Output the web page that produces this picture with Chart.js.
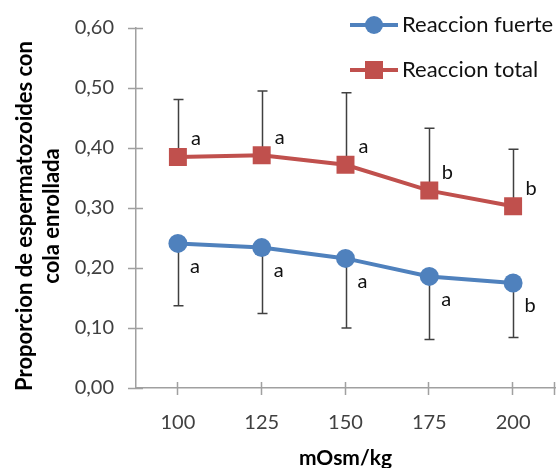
<!DOCTYPE html>
<html>
<head>
<meta charset="utf-8">
<script src="https://cdn.jsdelivr.net/npm/chart.js@4"></script>
<style>
  html, body { margin: 0; padding: 0; background: #fff; }
  #wrap { width: 556px; height: 468px; }
</style>
</head>
<body>
<div id="wrap"><canvas id="chart" width="556" height="468"></canvas></div>
<script>
// categories (mOsm/kg)
const categories = ['100', '125', '150', '175', '200'];

// Reaccion fuerte: means, lower error bar ends, significance letters
const fuerte = [0.241, 0.234, 0.216, 0.186, 0.175];
const fuerteLow = [0.137, 0.124, 0.100, 0.081, 0.084];
const fuerteLetters = ['a', 'a', 'a', 'a', 'b'];

// Reaccion total: means, upper error bar ends, significance letters
const total = [0.385, 0.388, 0.372, 0.329, 0.303];
const totalHigh = [0.481, 0.495, 0.492, 0.433, 0.398];
const totalLetters = ['a', 'a', 'a', 'b', 'b'];

const seriesNames = ['Reaccion fuerte', 'Reaccion total'];
const yTitle = ['Proporcion de espermatozoides con', 'cola enrollada'];
const xTitle = 'mOsm/kg';

const BLUE = '#4f81bd';
const RED = '#c0504d';
const AXIS = '#a0a0a0';
const TEXT = '#404040';
const FONT = 'Lato, "Open Sans", sans-serif';

const fmt = v => v.toFixed(2).replace('.', ',');

// kill the automatic label overflow padding so the plot area sits where we want
function noPad(s) {
    s.paddingLeft = 0;
    s.paddingRight = 0;
    s.paddingTop = 0;
    s.paddingBottom = 0;
}

const extras = {
    id: 'extras',
    beforeDatasetsDraw(chart) {
        // error bars: down for fuerte, up for total
        const { ctx, scales: { x, y } } = chart;
        ctx.save();
        ctx.strokeStyle = '#404040';
        ctx.lineWidth = 1.5;
        const bars = [[fuerte, fuerteLow], [total, totalHigh]];
        bars.forEach(([vals, ends]) => {
            vals.forEach((v, i) => {
                const px = Math.round(x.getPixelForValue(i)) + 0.5;
                const y0 = y.getPixelForValue(v);
                const y1 = y.getPixelForValue(ends[i]);
                ctx.beginPath();
                ctx.moveTo(px, y0);
                ctx.lineTo(px, y1);
                ctx.moveTo(px - 5, y1);
                ctx.lineTo(px + 5, y1);
                ctx.stroke();
            });
        });
        ctx.restore();
    },
    afterDatasetsDraw(chart) {
        const { ctx, chartArea, scales: { x, y } } = chart;
        ctx.save();
        // crossing tick marks
        ctx.strokeStyle = AXIS;
        ctx.lineWidth = 1.5;
        ctx.beginPath();
        y.ticks.forEach(t => {
            const py = Math.round(y.getPixelForValue(t.value)) + 0.5;
            ctx.moveTo(chartArea.left - 8, py);
            ctx.lineTo(chartArea.left + 7, py);
        });
        const xs = categories.map((c, i) => x.getPixelForValue(i));
        xs.push(chartArea.right);
        xs.forEach(px => {
            px = Math.round(px) - 0.5;
            ctx.moveTo(px, chartArea.bottom - 6);
            ctx.lineTo(px, chartArea.bottom + 7);
        });
        ctx.stroke();

        // significance letters
        ctx.fillStyle = '#111';
        ctx.font = '20px ' + FONT;
        ctx.textAlign = 'center';
        ctx.textBaseline = 'middle';
        total.forEach((v, i) => {
            ctx.fillText(totalLetters[i], x.getPixelForValue(i) + 18, y.getPixelForValue(v) - 18);
        });
        fuerte.forEach((v, i) => {
            ctx.fillText(fuerteLetters[i], x.getPixelForValue(i) + 17, y.getPixelForValue(v) + 23);
        });
        ctx.restore();
    },
    afterDraw(chart) {
        const { ctx, chartArea } = chart;
        ctx.save();
        // legend
        const items = [
            { name: seriesNames[0], color: BLUE, style: 'circle', y: 25 },
            { name: seriesNames[1], color: RED, style: 'rect', y: 70 }
        ];
        items.forEach(it => {
            ctx.strokeStyle = it.color;
            ctx.lineWidth = 4;
            ctx.beginPath();
            ctx.moveTo(350, it.y);
            ctx.lineTo(398, it.y);
            ctx.stroke();
            ctx.fillStyle = it.color;
            if (it.style === 'circle') {
                ctx.beginPath();
                ctx.arc(374, it.y, 9, 0, Math.PI * 2);
                ctx.fill();
            } else {
                ctx.fillRect(365, it.y - 9, 18, 18);
            }
            ctx.fillStyle = '#111';
            ctx.font = '22px ' + FONT;
            ctx.textAlign = 'left';
            ctx.textBaseline = 'middle';
            ctx.fillText(it.name, 402, it.y);
        });

        // axis titles
        ctx.fillStyle = '#000';
        ctx.font = 'bold 22px ' + FONT;
        ctx.textAlign = 'center';
        ctx.textBaseline = 'middle';
        ctx.save();
        ctx.translate(25, 216);
        ctx.rotate(-Math.PI / 2);
        ctx.fillText(yTitle[0], 0, 0);
        ctx.fillText(yTitle[1], 0, 27);
        ctx.restore();
        ctx.font = 'bold 21px ' + FONT;
        ctx.fillText(xTitle, (chartArea.left + chartArea.right) / 2, 458);
        ctx.restore();
    }
};

new Chart(document.getElementById('chart'), {
    type: 'line',
    data: {
        labels: categories,
        datasets: [
            {
                label: seriesNames[0],
                data: fuerte,
                borderColor: BLUE,
                backgroundColor: BLUE,
                borderWidth: 4,
                pointStyle: 'circle',
                pointRadius: 9.5,
                pointBorderWidth: 0,
                tension: 0
            },
            {
                label: seriesNames[1],
                data: total,
                borderColor: RED,
                backgroundColor: RED,
                borderWidth: 4,
                pointStyle: 'rect',
                pointRadius: 12.7,
                pointBorderWidth: 0,
                tension: 0
            }
        ]
    },
    options: {
        responsive: false,
        devicePixelRatio: 1,
        animation: false,
        layout: { autoPadding: false, padding: { top: 28, right: 1, left: 0, bottom: 0 } },
        plugins: {
            legend: { display: false },
            tooltip: { enabled: false }
        },
        scales: {
            x: {
                offset: true,
                grid: { display: false, drawTicks: false },
                border: { color: AXIS, width: 1.5 },
                ticks: { color: TEXT, font: { family: FONT, size: 20 }, padding: 23 },
                afterFit(s) { s.height = 80; noPad(s); }
            },
            y: {
                min: 0,
                max: 0.6,
                grid: { display: false, drawTicks: false },
                border: { color: AXIS, width: 1.5 },
                ticks: {
                    stepSize: 0.1,
                    color: TEXT,
                    font: { family: FONT, size: 20 },
                    padding: 22,
                    callback: v => fmt(v)
                },
                afterFit(s) { s.width = 136; noPad(s); }
            }
        }
    },
    plugins: [extras]
});
</script>
</body>
</html>
